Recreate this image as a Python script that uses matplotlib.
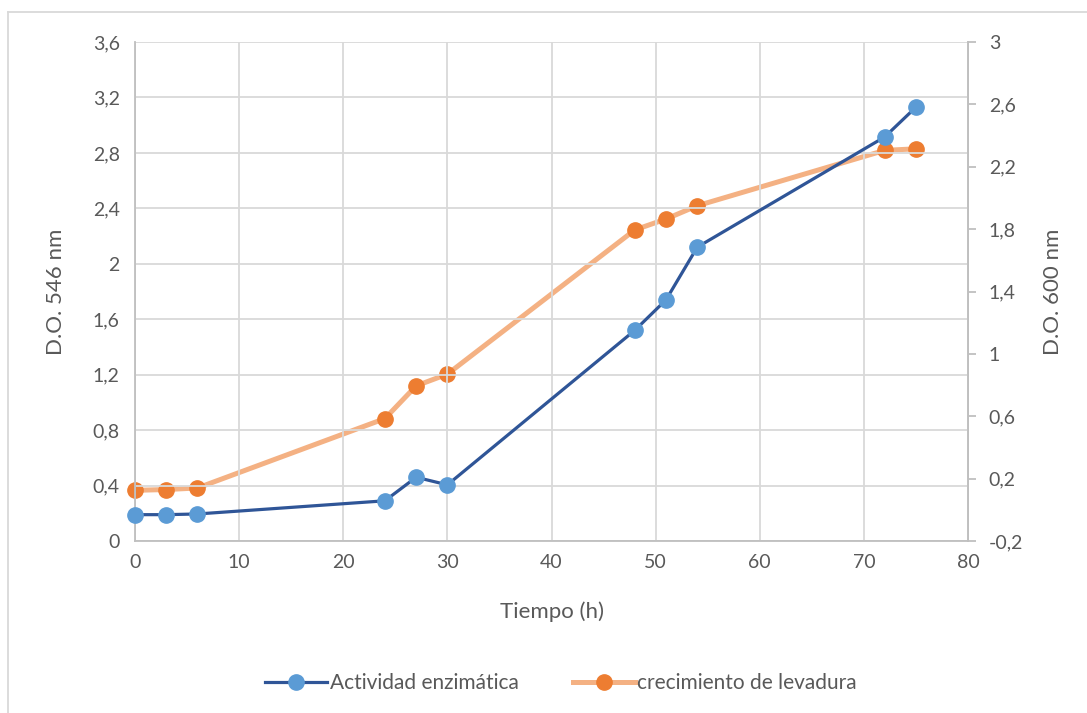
import matplotlib
matplotlib.use("Agg")
import matplotlib.pyplot as plt
from matplotlib.ticker import FuncFormatter
from matplotlib.lines import Line2D

plt.rcParams['font.family'] = ['Lato', 'DejaVu Sans']

# Sampling times (h)
tiempo = [0, 3, 6, 24, 27, 30, 48, 51, 54, 72, 75]
# Enzymatic activity, OD 546 nm (left axis)
actividad = [0.19, 0.19, 0.195, 0.29, 0.46, 0.405, 1.52, 1.74, 2.12, 2.915, 3.13]
# Yeast growth, OD 600 nm (right axis)
crecimiento = [0.125, 0.13, 0.14, 0.585, 0.795, 0.87, 1.795, 1.865, 1.95, 2.305, 2.315]

left_ticks = [0, 0.4, 0.8, 1.2, 1.6, 2.0, 2.4, 2.8, 3.2, 3.6]
right_ticks = [-0.2, 0.2, 0.6, 1.0, 1.4, 1.8, 2.2, 2.6, 3.0]
x_ticks = [0, 10, 20, 30, 40, 50, 60, 70, 80]

TXT = '#595959'
GRID = '#D9D9D9'
SPINE = '#BFBFBF'


def coma(v, pos=None):
    s = f"{v:.1f}".rstrip('0').rstrip('.')
    if s in ('-0', ''):
        s = '0'
    return s.replace('.', ',')


fig = plt.figure(figsize=(10.87, 7.13), dpi=100)
ax = fig.add_axes([135 / 1087, 1 - 541 / 713, (968 - 135) / 1087, (541 - 42) / 713])
ax2 = ax.twinx()

ax.set_xlim(0, 80)
ax.set_ylim(0, 3.6)
ax2.set_ylim(-0.2, 3.0)
ax.set_xticks(x_ticks)
ax.set_yticks(left_ticks)
ax2.set_yticks(right_ticks)
ax.yaxis.set_major_formatter(FuncFormatter(coma))
ax2.yaxis.set_major_formatter(FuncFormatter(coma))

ax.grid(True, color=GRID, linewidth=1.3)
ax.set_axisbelow(True)

for a in (ax, ax2):
    for s in a.spines.values():
        s.set_color(SPINE)
        s.set_linewidth(1.3)
    a.spines['top'].set_visible(False)
ax.tick_params(axis='both', length=0, labelsize=14, colors=TXT)
ax.tick_params(axis='y', pad=11)
ax.tick_params(axis='x', pad=9)
ax2.tick_params(axis='y', length=6, width=1.3, color=SPINE, labelsize=14,
                labelcolor=TXT, pad=9)
ax2.spines['left'].set_visible(False)
ax2.spines['bottom'].set_visible(False)

ax.plot(tiempo, actividad, color='#2F5597', linewidth=2.3, marker='o',
        markersize=11, markerfacecolor='#5B9BD5', markeredgecolor='#5B9BD5',
        zorder=3, clip_on=False)
ax2.plot(tiempo, crecimiento, color='#F4B183', linewidth=3.6, marker='o',
         markersize=11, markerfacecolor='#ED7D31', markeredgecolor='#ED7D31',
         zorder=3, clip_on=False)
ax.set_zorder(ax2.get_zorder() + 1)
ax.patch.set_visible(False)

ax.set_xlabel('Tiempo (h)', fontsize=16, color=TXT, labelpad=22)
ax.set_ylabel('D.O. 546 nm', fontsize=16, color=TXT, labelpad=19)
ax2.set_ylabel('D.O. 600 nm', fontsize=16, color=TXT, labelpad=14)

handles = [
    Line2D([], [], color='#2F5597', linewidth=2.3, marker='o', markersize=11,
           markerfacecolor='#5B9BD5', markeredgecolor='#5B9BD5'),
    Line2D([], [], color='#F4B183', linewidth=3.6, marker='o', markersize=11,
           markerfacecolor='#ED7D31', markeredgecolor='#ED7D31'),
]
leg = fig.legend(handles, ['Actividad enzimática', 'crecimiento de levadura'],
                 loc='center', bbox_to_anchor=(0.516, 1 - 683 / 713), ncol=2,
                 frameon=False, fontsize=15, handlelength=3.0, handletextpad=0.1,
                 columnspacing=2.6)
for t in leg.get_texts():
    t.set_color(TXT)

# chart area frame (left and top edges)
fig.add_artist(Line2D([8 / 1087, 8 / 1087], [0, 1 - 12 / 713],
                      transform=fig.transFigure, color=GRID, linewidth=1.3))
fig.add_artist(Line2D([8 / 1087, 1], [1 - 12 / 713, 1 - 12 / 713],
                      transform=fig.transFigure, color=GRID, linewidth=1.3))

fig.savefig('out.png', dpi=100)
